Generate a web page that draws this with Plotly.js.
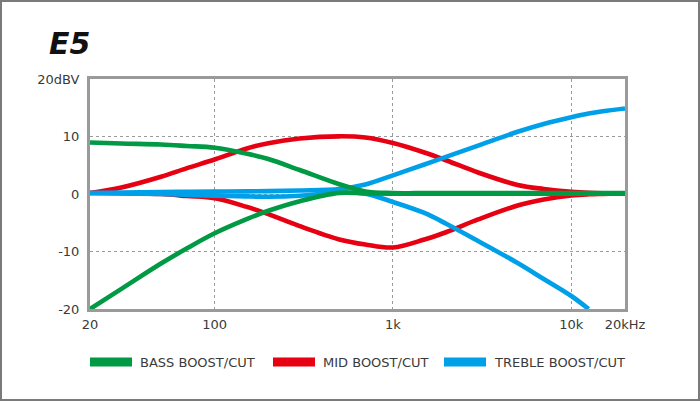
<!DOCTYPE html>
<html>
<head>
<meta charset="utf-8">
<script src="https://cdn.plot.ly/plotly-3.0.1.min.js"></script>
<style>
  html, body { margin: 0; padding: 0; background: #fff; }
  #wrap { position: relative; width: 700px; height: 401px; }
  #chart { width: 700px; height: 401px; }
  #frame { position: absolute; left: 0; top: 0; width: 700px; height: 401px; box-sizing: border-box; border: 2px solid #7a7a7a; pointer-events: none; }
</style>
</head>
<body>
<div id="wrap"><div id="chart"></div><div id="frame"></div></div>
<script>
// ---- data ----
const freqs = [20, 30, 50, 70, 100, 150, 200, 300, 500, 700, 1000, 1500, 2000, 3000, 5000, 7000, 10000, 12500, 15000, 20000];

const bassBoost   = [8.96, 8.78, 8.6, 8.35, 8.05, 7.04, 6.09, 4.17, 1.7, 0.45, 0.17, 0.15, 0.15, 0.15, 0.15, 0.15, 0.15, 0.15, 0.15, 0.15];
const bassCut     = [-20, -16.5, -12.1, -9.44, -6.83, -4.42, -2.92, -1.25, 0.2, 0.1, 0.05, 0.05, 0.05, 0.05, 0.05, 0.05, 0.05, 0.05, 0.05, 0.05];
const midBoost    = [0.17, 1.13, 3.0, 4.5, 6.0, 7.88, 8.83, 9.65, 10.03, 9.83, 8.87, 7.22, 5.83, 3.74, 1.57, 0.87, 0.38, 0.2, 0.14, 0.12];
const midCut      = [0.17, 0.12, 0.0, -0.35, -0.75, -2.2, -3.5, -5.6, -7.9, -8.78, -9.3, -7.91, -6.61, -4.43, -2.0, -0.96, -0.26, -0.05, 0.03, 0.12];
const trebleBoost = [0.17, 0.26, 0.33, 0.38, 0.42, 0.46, 0.5, 0.62, 0.87, 1.65, 3.25, 5.13, 6.5, 8.42, 10.82, 12.17, 13.34, 13.98, 14.38, 14.87];
const trebleCut   = [0.17, 0.1, 0.0, -0.15, -0.3, -0.42, -0.47, -0.3, 0.25, 0.05, -1.39, -3.3, -5.22, -8.17, -12.0, -14.78, -17.74, -20, null, null];

const seriesNames = ['BASS BOOST/CUT', 'MID BOOST/CUT', 'TREBLE BOOST/CUT'];
const seriesColors = ['#009944', '#e60012', '#00a0e9'];

const xTickVals = [20, 100, 1000, 10000, 20000];
const xTickText = ['20', '100', '1k', '10k', '20kHz'];
const yTickVals = [-20, -10, 0, 10, 20];
const yTickText = ['-20', '-10', '0', '10', '20dBV'];

const chartTitle = 'E5';

// ---- layout geometry ----
const W = 700, H = 401;
const M = { l: 90, r: 75, t: 79, b: 92 };
const plotW = W - M.l - M.r, plotH = H - M.t - M.b;
const px = x => (x - M.l) / plotW;          // page px -> paper x
const py = y => (H - M.b - y) / plotH;      // page px -> paper y

function curve(y, color) {
  return {
    type: 'scatter', mode: 'lines', x: freqs, y: y,
    line: { color: color, width: 4.6, shape: 'spline', smoothing: 1 },
    connectgaps: false, showlegend: false, hoverinfo: 'skip'
  };
}

const traces = [
  curve(midBoost, seriesColors[1]),
  curve(midCut, seriesColors[1]),
  curve(trebleBoost, seriesColors[2]),
  curve(trebleCut, seriesColors[2]),
  curve(bassBoost, seriesColors[0]),
  curve(bassCut, seriesColors[0])
];

// manual legend (swatches + labels)
const legendSwatchX = [90, 273, 444];
const shapes = [];
const annotations = [];
seriesNames.forEach((name, i) => {
  const x0 = legendSwatchX[i];
  shapes.push({
    type: 'rect', xref: 'paper', yref: 'paper',
    x0: px(x0), x1: px(x0 + 42), y0: py(366.5), y1: py(357.5),
    fillcolor: seriesColors[i], line: { width: 0 }
  });
  annotations.push({
    xref: 'paper', yref: 'paper', x: px(x0 + 48), y: py(362),
    xanchor: 'left', yanchor: 'middle', showarrow: false,
    text: name, font: { family: 'DejaVu Sans, sans-serif', size: 13, color: '#3a3a3a' }
  });
});

const tickFont = { family: 'DejaVu Sans, sans-serif', size: 13, color: '#3a3a3a' };

const layout = {
  width: W, height: H,
  margin: M,
  paper_bgcolor: '#ffffff', plot_bgcolor: '#ffffff',
  showlegend: false,
  title: {
    text: '<b><i>' + chartTitle + '</i></b>',
    xref: 'container', yref: 'container',
    x: 49 / W, xanchor: 'left',
    y: 1 - 43 / H, yanchor: 'middle',
    font: { family: 'DejaVu Sans, sans-serif', size: 30, color: '#111111' }
  },
  xaxis: {
    type: 'log', range: [Math.log10(20), Math.log10(20000)],
    tickmode: 'array', tickvals: xTickVals, ticktext: xTickText,
    ticks: '', ticklabelstandoff: 1,
    showgrid: true, gridcolor: '#9a9a9a', gridwidth: 1, griddash: 'dot',
    zeroline: false,
    showline: true, mirror: true, linecolor: '#9a9a9a', linewidth: 3,
    tickfont: tickFont, fixedrange: true
  },
  yaxis: {
    range: [-20, 20],
    tickmode: 'array', tickvals: yTickVals, ticktext: yTickText,
    ticks: '', ticklabelstandoff: 5,
    showgrid: true, gridcolor: '#9a9a9a', gridwidth: 1, griddash: 'dot',
    zeroline: false,
    showline: true, mirror: true, linecolor: '#9a9a9a', linewidth: 3,
    tickfont: tickFont, fixedrange: true
  },
  shapes: shapes,
  annotations: annotations
};

Plotly.newPlot('chart', traces, layout, { staticPlot: true, displayModeBar: false });
</script>
</body>
</html>
